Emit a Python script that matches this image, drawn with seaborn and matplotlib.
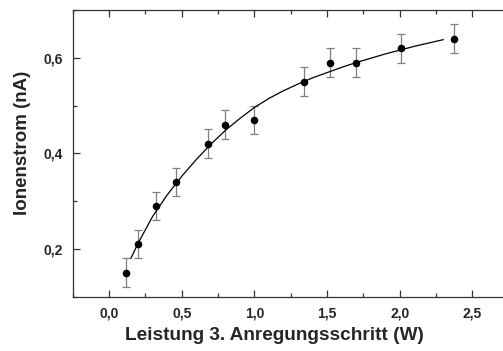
import matplotlib
matplotlib.use("Agg")
import matplotlib.pyplot as plt
import seaborn as sns
import pandas as pd
from matplotlib.ticker import MultipleLocator, FuncFormatter

# Measured data
leistung = [0.12, 0.20, 0.32, 0.46, 0.68, 0.80, 1.00, 1.34, 1.52, 1.70, 2.01, 2.37]
ionenstrom = [0.15, 0.21, 0.29, 0.34, 0.42, 0.46, 0.47, 0.55, 0.59, 0.59, 0.62, 0.64]
fehler = [0.03] * 12

# Fit curve
fit_x = [0.15, 0.20, 0.30, 0.40, 0.50, 0.60, 0.70, 0.80, 0.90, 1.00, 1.10, 1.20,
         1.30, 1.40, 1.50, 1.60, 1.70, 1.80, 1.90, 2.00, 2.10, 2.20, 2.30]
fit_y = [0.180, 0.212, 0.268, 0.313, 0.352, 0.387, 0.419, 0.448, 0.473, 0.496, 0.515, 0.531,
         0.545, 0.558, 0.569, 0.580, 0.590, 0.599, 0.608, 0.616, 0.624, 0.631, 0.638]

x_ticks = [0.0, 0.5, 1.0, 1.5, 2.0, 2.5]
y_ticks = [0.2, 0.4, 0.6]

sns.set_style("ticks")
plt.rcParams["font.family"] = ["Liberation Sans", "DejaVu Sans"]
plt.rcParams["font.weight"] = "bold"

df = pd.DataFrame({"x": leistung, "y": ionenstrom})
fit = pd.DataFrame({"x": fit_x, "y": fit_y})

fig = plt.figure(figsize=(5.03, 3.51), dpi=100)
ax = fig.add_axes([0.1445, 0.1547, 0.867, 0.8168])

ax.errorbar(leistung, ionenstrom, yerr=fehler, fmt="none", ecolor="#7f7f7f",
            elinewidth=0.9, capsize=2.6, capthick=0.9, zorder=2)
sns.lineplot(data=fit, x="x", y="y", ax=ax, color="black", linewidth=0.9,
             sort=False, estimator=None, zorder=3)
sns.scatterplot(data=df, x="x", y="y", ax=ax, color="black", s=30,
                edgecolor="black", linewidth=0, zorder=4)

ax.set_xlim(-0.25, 2.75)
ax.set_ylim(0.1, 0.7)
ax.set_xticks(x_ticks)
ax.set_yticks(y_ticks)
ax.xaxis.set_minor_locator(MultipleLocator(0.25))
ax.yaxis.set_minor_locator(MultipleLocator(0.1))
fmt = FuncFormatter(lambda v, p: f"{v:.1f}".replace(".", ","))
ax.xaxis.set_major_formatter(fmt)
ax.yaxis.set_major_formatter(fmt)

ax.tick_params(which="both", direction="in", top=True, right=False,
               color="#333333", width=0.9)
ax.tick_params(which="major", length=5, labelsize=10, pad=7)
ax.tick_params(which="minor", length=3)
for lab in ax.get_xticklabels() + ax.get_yticklabels():
    lab.set_fontweight("bold")

for sp in ax.spines.values():
    sp.set_color("#333333")
    sp.set_linewidth(0.9)

ax.set_xlabel("Leistung 3. Anregungsschritt (W)", fontsize=13.7, fontweight="bold", labelpad=5)
ax.set_ylabel("Ionenstrom (nA)", fontsize=13.5, fontweight="bold", labelpad=9)
ax.xaxis.label.set_x(0.463)
ax.yaxis.label.set_y(0.536)

fig.savefig("out.png", dpi=100)
